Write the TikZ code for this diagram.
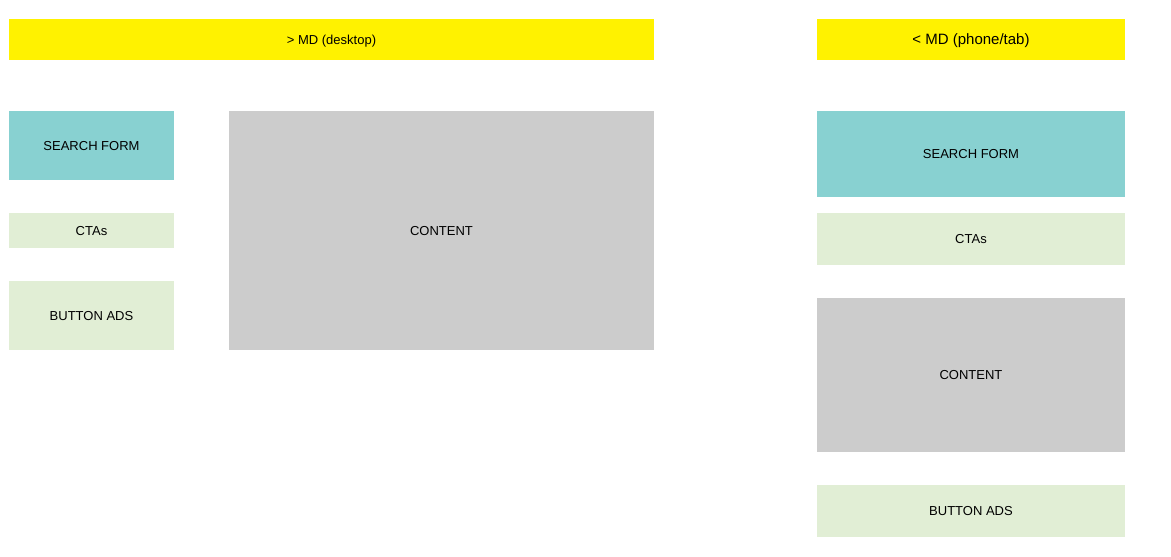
\documentclass[tikz,border=0pt]{standalone}
\usepackage{fontspec}
\setmainfont{Liberation Sans}
\definecolor{hdr}{RGB}{255,242,0}
\definecolor{teal}{RGB}{136,209,209}
\definecolor{lgreen}{RGB}{225,238,213}
\definecolor{lgray}{RGB}{204,204,204}
\begin{document}
\begin{tikzpicture}[x=1pt,y=-1pt,
  blk/.style={draw=none,inner sep=0pt,font=\fontsize{13}{15}\selectfont,text=black,text height=9.3pt,text depth=0pt},
]
\useasboundingbox (0,0) rectangle (1171,557);
\newcommand{\blkbox}[7]{%
  \fill[#6] (#2,#3) rectangle (#4,#5);
  \node[blk] (#1) at ({(#2+#4)/2},{(#3+#5)/2}) {#7};}
% desktop
\blkbox{hd}{9}{19}{654}{60}{hdr}{> MD (desktop)}
\blkbox{sfd}{9}{111}{174}{180}{teal}{SEARCH FORM}
\blkbox{ctad}{9}{213}{174}{248}{lgreen}{CTAs}
\blkbox{bad}{9}{281}{174}{350}{lgreen}{BUTTON ADS}
\blkbox{cd}{229}{111}{654}{350}{lgray}{CONTENT}
% phone
\fill[hdr] (817,19) rectangle (1125,60);
\node[blk,font=\fontsize{15}{17}\selectfont,text height=10.7pt] (hp) at (971,39.5) {< MD (phone/tab)};
\blkbox{sfp}{817}{111}{1125}{197}{teal}{SEARCH FORM}
\blkbox{ctap}{817}{213}{1125}{265}{lgreen}{CTAs}
\blkbox{cp}{817}{298}{1125}{452}{lgray}{CONTENT}
\blkbox{bap}{817}{485}{1125}{537}{lgreen}{BUTTON ADS}
\end{tikzpicture}
\end{document}
